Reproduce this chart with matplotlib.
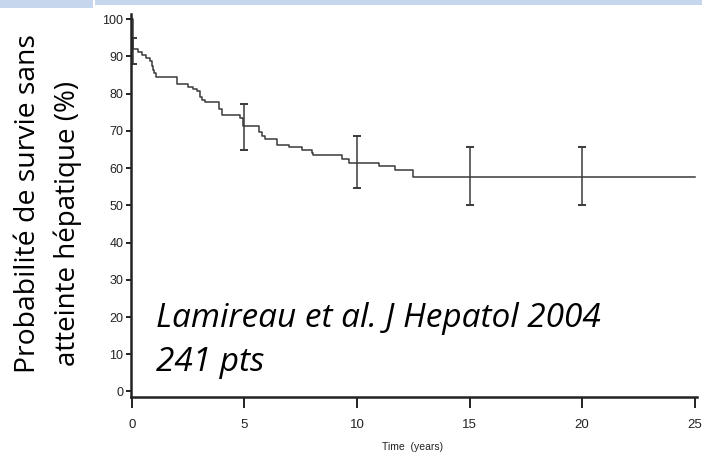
import matplotlib
matplotlib.use("Agg")
import matplotlib.pyplot as plt
from matplotlib.patches import Rectangle

# Kaplan-Meier estimate: event times (years) and survival (%) after each step
km_times = [0.0, 0.05, 0.28, 0.45, 0.62, 0.78, 0.87, 0.94, 1.00, 1.06,
            1.98, 2.50, 2.72, 2.90, 3.02, 3.10, 3.25, 3.88, 3.98, 4.78,
            4.95, 5.63, 5.78, 5.93, 6.45, 6.97, 7.56, 7.98, 8.05, 9.34,
            9.64, 10.98, 11.69, 12.49, 25.0]
km_surv = [100.0, 92.0, 91.3, 90.5, 89.6, 88.7, 87.5, 86.4, 85.5, 84.4,
           82.7, 81.9, 81.3, 80.6, 79.1, 78.4, 77.7, 76.0, 74.3, 73.5,
           71.3, 69.8, 68.5, 67.9, 66.3, 65.6, 64.9, 64.0, 63.4, 62.4,
           61.5, 60.6, 59.4, 57.7, 57.7]

# Confidence intervals shown at selected times
ci_times = [0.05, 5.0, 10.0, 15.0, 20.0]
ci_low = [88.0, 64.9, 54.6, 50.2, 50.2]
ci_high = [95.0, 77.2, 68.5, 65.7, 65.7]

x_ticks = [0, 5, 10, 15, 20, 25]
y_ticks = [0, 10, 20, 30, 40, 50, 60, 70, 80, 90, 100]

W, H = 702, 458
fig = plt.figure(figsize=(W / 100, H / 100), dpi=100)
fig.patch.set_facecolor("white")

# Light blue header band
band = "#c6d6ec"
fig.patches.append(Rectangle((0, 1 - 8 / H), 93 / W, 8 / H, transform=fig.transFigure,
                             facecolor=band, edgecolor="none"))
fig.patches.append(Rectangle((95 / W, 1 - 5 / H), 1 - 95 / W, 5 / H, transform=fig.transFigure,
                             facecolor=band, edgecolor="none"))

ax = fig.add_axes([131 / W, 1 - 397 / H, (697 - 131) / W, (397 - 14) / H])
ax.set_xlim(-0.044, 25.11)
ax.set_ylim(-1.48, 101.4)

line_col = "#3a3a3a"
ax.step(km_times, km_surv, where="post", color=line_col, lw=1.1, clip_on=False)
ax.errorbar(ci_times, [(l + h) / 2 for l, h in zip(ci_low, ci_high)],
            yerr=[[(h - l) / 2 for l, h in zip(ci_low, ci_high)],
                  [(h - l) / 2 for l, h in zip(ci_low, ci_high)]],
            fmt="none", ecolor=line_col, elinewidth=1.1, capsize=3, capthick=1.4)

for s in ["top", "right"]:
    ax.spines[s].set_visible(False)
for s in ["left", "bottom"]:
    ax.spines[s].set_linewidth(1.8)
    ax.spines[s].set_color("#222222")

ax.set_xticks(x_ticks)
ax.set_yticks(y_ticks)
ax.tick_params(axis="y", length=3.6, width=1.4, pad=2.0, labelsize=9, colors="#222222")
ax.tick_params(axis="x", length=8, width=1.4, pad=7.5, labelsize=9.5, colors="#222222")
for lab in ax.get_xticklabels() + ax.get_yticklabels():
    lab.set_family("Liberation Sans")

fig.text(412.5 / W, 1 - 447 / H, "Time  (years)", ha="center", va="center",
         fontsize=7.5, family="Liberation Sans", color="#222222")

# Two-line rotated y label
fig.text(28 / W, 1 - 204 / H, "Probabilité de survie sans", rotation=90,
         ha="center", va="center", fontsize=20.4, family="Open Sans", color="black")
fig.text(68 / W, 1 - 223.5 / H, "atteinte hépatique (%)", rotation=90,
         ha="center", va="center", fontsize=20, family="Open Sans", color="black")

# Source annotation
fig.text(156.5 / W, 1 - 326.7 / H, "Lamireau et al. J Hepatol 2004", ha="left",
         va="baseline", fontsize=24, style="italic", family="Open Sans", color="black")
fig.text(156.5 / W, 1 - 370.7 / H, "241 pts", ha="left",
         va="baseline", fontsize=24, style="italic", family="Open Sans", color="black")

fig.savefig("out.png", dpi=100)
